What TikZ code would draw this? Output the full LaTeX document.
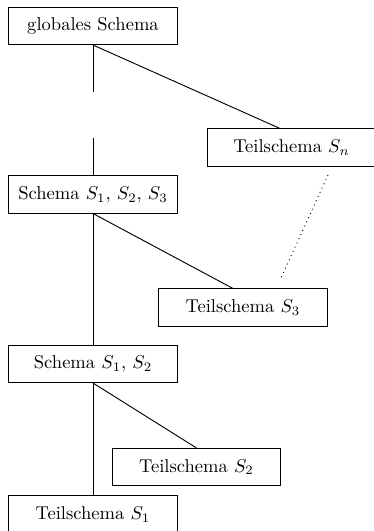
\documentclass[tikz,border=0pt]{standalone}
\usetikzlibrary{calc}
\begin{document}
\begin{tikzpicture}[x=0.539pt,y=-0.539pt,
  box/.style={draw,line width=0.5pt,minimum width=91pt,minimum height=20pt,inner sep=0pt,font=\normalsize},
  conn/.style={line width=0.5pt}]
\useasboundingbox (0,0) rectangle (373,531);
\node[box] (g) at (93,26) {globales Schema};
\node[box] (sn) at (291.5,147.5) {Teilschema $S_n$};
\node[box] (s123) at (93,194.5) {Schema $S_1$, $S_2$, $S_3$};
\node[box] (s3) at (243,307.5) {Teilschema $S_3$};
\node[box] (s12) at (93,364) {Schema $S_1$, $S_2$};
\node[box] (s2) at (196.5,467) {Teilschema $S_2$};
\node[box] (s1) at (93,514.5) {Teilschema $S_1$};
\coordinate (gapa) at (93,91.7);
\coordinate (gapb) at (93,138);
\coordinate (dota) at (328,175);
\coordinate (dotb) at (280,280);
\draw[conn] (g.south) -- (gapa);
\draw[conn] (gapb) -- (s123.north);
\draw[conn] (g.south) -- ($(sn.north)+(-11.5,0)$);
\draw[conn] (s123.south) -- ($(s3.north)+(-10,0)$);
\draw[conn] (s123.south) -- (s12.north);
\draw[conn] (s12.south) -- (s2.north);
\draw[conn] (s12.south) -- (s1.north);
\draw[conn,dotted] (dota) -- (dotb);
\end{tikzpicture}
\end{document}
